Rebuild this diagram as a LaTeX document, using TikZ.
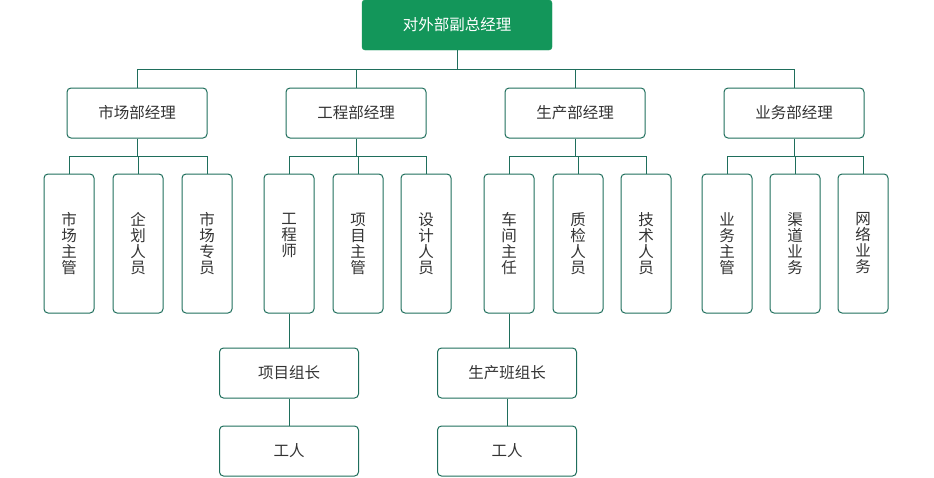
\documentclass[tikz,border=0pt]{standalone}
\usepackage{fontspec}
\newfontfamily\cjk{Noto Sans CJK SC}
\definecolor{topgreen}{HTML}{13965A}
\definecolor{linegreen}{HTML}{1F6E5C}
\definecolor{textgray}{HTML}{333333}

\begin{document}
\begin{tikzpicture}[x=1pt, y=-1pt,
	topbox/.style={rectangle, rounded corners=3pt, fill=topgreen, draw=topgreen, text=white,
		minimum width=190pt, minimum height=50pt, inner sep=0pt, font=\cjk\fontsize{15.5}{16}\selectfont},
	mgrbox/.style={rectangle, rounded corners=4pt, draw=linegreen, line width=1pt, text=textgray,
		minimum width=140pt, minimum height=50pt, inner sep=0pt, font=\cjk\fontsize{15.5}{16}\selectfont},
	staffbox/.style={rectangle, rounded corners=4pt, draw=linegreen, line width=1pt, text=textgray,
		minimum width=50pt, minimum height=139pt, inner sep=0pt, align=center,
		font=\cjk\fontsize{15.5}{16}\selectfont},
	link/.style={draw=linegreen, line width=1pt}]

	% fix the page to the size of the reference
	\useasboundingbox (0,0) rectangle (934,477);

	% the head of the department
	\node[topbox] (top) at (457,25) {对外部副总经理};
	\coordinate (bus) at (457,69);
	\draw[link] (top.south) -- (bus);

	% the four managers
	\foreach \i/\x/\name in {1/137/市场部经理, 2/356/工程部经理, 3/575/生产部经理, 4/794/业务部经理}{
		\node[mgrbox] (m\i) at (\x,113) {\name};
		\draw[link] (bus) -| (m\i.north);
	}

	% staff under each manager
	\foreach \i/\j/\x/\name in {
			1/1/69/{市\\场\\主\\管}, 1/2/138/{企\\划\\人\\员}, 1/3/207/{市\\场\\专\\员},
			2/1/289/{工\\程\\师\\\phantom{师}}, 2/2/358/{项\\目\\主\\管}, 2/3/426/{设\\计\\人\\员},
			3/1/509/{车\\间\\主\\任}, 3/2/578/{质\\检\\人\\员}, 3/3/646/{技\\术\\人\\员},
			4/1/727/{业\\务\\主\\管}, 4/2/795/{渠\\道\\业\\务}, 4/3/863/{网\\络\\业\\务}}{
		\node[staffbox] (s\i\j) at (\x,243.5) {\name};
		\draw[link] (m\i.south) -- ++(0,18) -| (s\i\j.north);
	}

	% team leaders and workers
	\node[mgrbox, minimum width=139pt] (lead1) at (289,373) {项目组长};
	\node[mgrbox, minimum width=139pt] (lead2) at (507,373) {生产班组长};
	\node[mgrbox, minimum width=139pt] (work1) at (289,451) {工人};
	\node[mgrbox, minimum width=139pt] (work2) at (507,451) {工人};
	\draw[link] (s21.south) -- (lead1.north);
	\draw[link] (s31.south) -- (s31.south |- lead2.north);
	\draw[link] (lead1.south) -- (work1.north);
	\draw[link] (lead2.south) -- (work2.north);
\end{tikzpicture}
\end{document}
